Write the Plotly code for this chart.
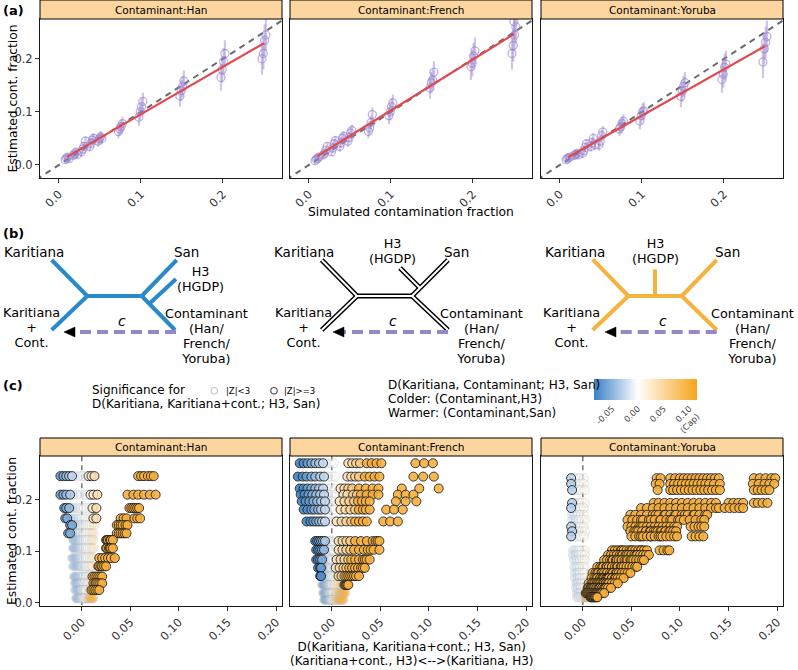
import numpy as np
import plotly.graph_objects as go

W, H = 798, 670
FONT = "DejaVu Sans, Verdana, sans-serif"

# ---------------- panel (a) data ----------------
SIM_FRACTION = [0.01, 0.02, 0.03, 0.04, 0.05, 0.075, 0.10, 0.15, 0.20, 0.25]
EST_HAN = [
    [0.010, 0.013, 0.015, 0.012],
    [0.018, 0.021, 0.024, 0.020],
    [0.025, 0.030, 0.035, 0.045],
    [0.035, 0.041, 0.047, 0.050],
    [0.045, 0.049, 0.053, 0.050],
    [0.063, 0.068, 0.072, 0.078],
    [0.090, 0.100, 0.110, 0.120],
    [0.130, 0.140, 0.148, 0.158],
    [0.165, 0.180, 0.195, 0.210],
    [0.200, 0.210, 0.235, 0.245],
]
EST_FRENCH = [
    [0.008, 0.011, 0.013, 0.015],
    [0.019, 0.022, 0.028, 0.035],
    [0.025, 0.032, 0.040, 0.046],
    [0.035, 0.042, 0.050, 0.054],
    [0.045, 0.052, 0.060, 0.065],
    [0.063, 0.070, 0.080, 0.095],
    [0.093, 0.100, 0.110, 0.117],
    [0.145, 0.155, 0.160, 0.175],
    [0.185, 0.192, 0.205, 0.215],
    [0.210, 0.225, 0.245, 0.260, 0.270],
]
EST_YORUBA = [
    [0.010, 0.012, 0.014, 0.015],
    [0.018, 0.020, 0.022, 0.019],
    [0.022, 0.027, 0.033, 0.040],
    [0.035, 0.042, 0.050, 0.038],
    [0.038, 0.045, 0.055, 0.062],
    [0.068, 0.072, 0.078, 0.082],
    [0.083, 0.093, 0.100, 0.102],
    [0.129, 0.139, 0.148, 0.155],
    [0.161, 0.171, 0.184, 0.190],
    [0.194, 0.219, 0.231, 0.242],
]
CI_HALF = [0.006, 0.007, 0.009, 0.010, 0.011, 0.013, 0.016, 0.020, 0.025, 0.030]
CONTAMINANTS = ["Han", "French", "Yoruba"]

# ---------------- panel (c) data ----------------
# colour value D(Karitiana, Contaminant; H3, San) of each H3 population (capped at 0.10)
HAN_D = [-0.065, -0.055, -0.045, -0.035, -0.025, -0.015, -0.008, -0.003, 0.003, 0.012, 0.025, 0.040,
         0.10, 0.10, 0.10, 0.10, 0.10, 0.10]
HAN_Y = [0.246, 0.210, 0.184, 0.164, 0.151, 0.135, 0.122, 0.106, 0.087, 0.071, 0.051, 0.038, 0.025, 0.009]
# D(Karitiana, Karitiana+cont.; H3, San), in units of 0.001, one row per replicate
HAN_X = [
    "-22 -19 -16 -13 -10 -6 -2 1 4 7 10 13 58 61 64 68 71 74",
    "-22 -19 -16 -12 -9 -5 -1 3 6 9 12 16 47 53 58 64 70 76",
    "-18 -16 -13 -10 -7 -4 -1 2 5 8 11 15 49 51 53 55 57 59",
    "-17 -15 -12 -9 -6 -3 0 3 6 9 12 15 40 43 46 54 57 60",
    "-12 -10 -8 -6 -4 -1 2 4 6 8 10 13 36 38 40 42 45 47",
    "-14 -12 -9 -6 -4 -1 2 4 6 8 10 12 36 38 40 42 44 46",
    "-9 -8 -6 -4 -2 0 2 4 6 8 10 12 25 26 27 29 30 32",
    "-9 -8 -6 -4 -2 0 2 4 6 8 10 12 25 26 28 29 30 32",
    "-10 -8 -6 -4 -2 0 2 4 6 8 10 12 18 21 24 27 30 34",
    "-9 -7 -5 -3 -1 1 3 5 7 8 10 11 17 18 20 21 23 25",
    "-8 -7 -5 -3 -1 1 2 4 5 7 8 10 11 13 15 17 19 21",
    "-7 -6 -4 -3 -1 0 2 3 5 6 7 9 12 14 15 17 19 21",
    "-7 -5 -4 -2 -1 0 2 3 4 5 7 8 9 10 12 14 16 18",
    "-6 -5 -4 -2 -1 0 1 2 3 4 5 6 7 8 9 10 11 12",
]
# |Z|>=3 flags for D(Karitiana, Karitiana+cont.; H3, San)
HAN_SIG = [
    "111110000111111111", "111100000111111111", "111000000011111111", "110000000011111111",
    "110000000000111111", "110000000000111111", "000000000000111111", "000000000000111111",
    "000000000000111111", "000000000000111111", "000000000000111111", "000000000000111111",
    "000000000000011111", "000000000000000000",
]

FR_D = [-0.085, -0.075, -0.065, -0.055, -0.045, -0.035, -0.025, -0.015, -0.004, 0.006,
        0.035, 0.045, 0.055, 0.065, 0.10, 0.10, 0.10, 0.10, 0.10, 0.10, 0.10]
FR_Y = [0.271, 0.245, 0.222, 0.210, 0.197, 0.181, 0.158, 0.120, 0.103, 0.084, 0.068, 0.052, 0.035, 0.019, 0.006]
FR_X = [
    "-33 -29 -25 -21 -17 -13 -9 -5 -1 2 17 21 25 29 36 41 46 51 86 95 104",
    "-35 -30 -26 -21 -17 -12 -8 -4 0 3 16 20 24 28 34 39 44 49 84 94 105",
    "-33 -29 -25 -21 -17 -13 -9 -5 -1 3 9 13 17 21 28 35 42 48 72 90 110",
    "-32 -28 -24 -20 -16 -12 -8 -4 -1 3 12 16 22 26 30 36 42 48 68 76 84",
    "-31 -27 -23 -19 -15 -11 -7 -4 -1 3 8 13 18 23 27 31 35 39 66 76 87",
    "-29 -25 -21 -18 -14 -11 -7 -4 -1 3 9 14 19 24 28 32 35 39 56 64 73",
    "-26 -22 -19 -16 -13 -10 -7 -4 -1 2 5 10 15 20 24 28 32 36 53 60 68",
    "-17 -15 -13 -11 -9 -7 -5 -3 -1 2 7 11 15 19 24 30 36 42 45 47 49",
    "-16 -14 -12 -10 -8 -6 -4 -2 0 2 7 11 15 19 23 28 33 37 40 43 49",
    "-16 -14 -12 -10 -8 -6 -4 -2 0 2 5 9 13 17 20 24 28 32 34 36 39",
    "-14 -12 -11 -9 -7 -5 -4 -2 0 2 4 8 12 15 18 21 24 27 30 32 34",
    "-12 -11 -9 -8 -6 -5 -3 -2 0 2 4 7 10 13 15 17 19 21 23 25 28",
    "-10 -9 -8 -6 -5 -4 -3 -2 0 2 3 5 7 9 11 12 13 14 15 16 17",
    "-9 -8 -7 -6 -5 -4 -3 -2 0 1 2 4 5 7 8 9 10 11 12 13 14",
    "-8 -7 -6 -5 -4 -3 -2 -1 0 1 2 3 4 5 6 7 8 9 10 11 12",
]
FR_SIG = [
    "111111100011111111111", "111111100011111111111", "111111100011111111111", "111111100011111111111",
    "111111100011111111111", "111111100011111111111", "111111100011111111111", "111111000011111111111",
    "111110000011111111111", "111100000011111111111", "111000000011111111111", "110000000001111111111",
    "000000000000000011111", "000000000000000000000", "000000000000000000000",
]

YO_D = [-0.030, -0.015, -0.005, 0.002, 0.010,
        0.10, 0.10, 0.10, 0.10, 0.10, 0.10, 0.10, 0.10, 0.10, 0.10,
        0.10, 0.10, 0.10, 0.10, 0.10, 0.10, 0.10, 0.10, 0.10, 0.10]
YO_Y = [0.242, 0.231, 0.219, 0.194, 0.184, 0.171, 0.161, 0.148, 0.139, 0.129,
        0.102, 0.093, 0.083, 0.070, 0.058, 0.048, 0.038, 0.029, 0.019, 0.011]
YO_X = [
    "-12 -9 -6 -3 1 76 80 90 95 100 104 108 112 116 120 124 128 132 136 140 176 182 188 194 198",
    "-12 -8 -5 -2 1 75 79 90 94 98 102 106 110 114 118 122 126 130 135 141 175 181 187 192 197",
    "-11 -8 -5 -2 2 77 90 93 97 101 105 109 113 117 121 125 129 133 137 141 176 180 184 188 192",
    "-11 -7 -4 -1 2 73 78 84 90 96 102 108 114 120 126 132 137 150 155 160 165 176 180 185 190",
    "-12 -8 -5 -2 1 60 66 72 78 84 90 96 102 108 114 120 126 132 137 140 146 151 156 161 165",
    "-11 -8 -5 -2 1 49 54 60 66 72 75 78 84 85 90 95 96 102 105 108 114 115 120 126 128",
    "-11 -7 -4 -1 2 46 51 56 60 62 68 70 74 80 80 86 90 92 98 100 104 110 116 122 125",
    "-12 -8 -5 -2 1 46 50 54 58 60 62 66 70 74 78 82 86 90 94 97 111 115 119 122 125",
    "-11 -7 -4 -1 2 49 53 55 57 61 65 65 69 70 73 75 77 80 81 85 85 89 90 93 96",
    "-12 -8 -5 -2 1 50 54 58 60 62 66 70 70 74 78 80 82 86 90 94 97 112 116 120 124",
    "-10 -7 -4 -1 2 30 33 36 39 40 42 45 48 50 51 54 57 60 60 63 66 79 83 87 89",
    "-10 -7 -4 -1 2 26 29 32 35 35 38 40 41 44 45 47 50 50 53 55 56 59 62 65 68",
    "-9 -6 -3 0 2 22 25 28 30 31 34 35 37 40 40 43 45 46 49 50 52 55 58 61 63",
    "-9 -6 -3 0 2 15 18 20 21 24 25 27 30 30 33 35 36 39 40 42 45 48 51 54 56",
    "-8 -5 -3 0 2 10 13 15 16 19 20 22 25 25 28 30 31 34 35 37 40 40 43 46 49",
    "-8 -5 -3 0 2 9 12 14 15 18 18 20 21 22 24 25 26 27 30 30 33 34 36 39 42",
    "-7 -5 -2 0 2 6 9 10 12 12 14 15 16 18 18 20 21 22 24 24 26 27 30 33 36",
    "-7 -5 -2 0 2 5 6 8 8 9 10 11 12 14 14 16 17 18 20 20 22 23 24 26 29",
    "-6 -4 -2 0 2 3 4 5 6 7 8 9 10 11 12 13 14 14 15 16 17 18 19 20 22",
    "-6 -4 -2 0 1 2 3 3 4 5 5 6 7 7 8 9 9 10 11 11 12 13 13 14 15",
]
YO_SIG = [
    "1000011111111111111111111", "1000011111111111111111111", "1000011111111111111111111",
    "1000011111111111111111111", "1000011111111111111111111", "0000011111111111111111111",
    "0000011111111111111111111", "1000011111111111111111111", "1000011111111111111111111",
    "1000011111111111111111111", "0000011111111111111111111", "0000011111111111111111111",
    "0000011111111111111111111", "0000011111111111111111111", "0000011111111111111111111",
    "0000011111111111111111111", "0000011111111111111111111", "0000011111111111111111111",
    "0000011111111111111111111", "0000000000000011111111111",
]
CB_TICKS = [-0.05, 0.0, 0.05, 0.10]
CB_TICKTEXT = ["-0.05", "0.00", "0.05", "0.10<br>(Cap)"]
CB_MIN, CB_MAX = -0.085, 0.115

# ---------------- helpers ----------------
fig = go.Figure()
shapes, ann = [], []


def P(x, y):
    return x / W, 1 - y / H


def seg(x0, y0, x1, y1, color, width, dash=None):
    a, b = P(x0, y0)
    c, d = P(x1, y1)
    ln = dict(color=color, width=width)
    if dash:
        ln["dash"] = dash
    shapes.append(dict(type="line", xref="paper", yref="paper", x0=a, y0=b, x1=c, y1=d, line=ln))


def txt(x, y, s, size=14, xanchor="center", yanchor="middle", angle=0, color="black"):
    a, b = P(x, y)
    ann.append(dict(xref="paper", yref="paper", x=a, y=b, text=s, showarrow=False,
                    font=dict(family=FONT, size=size, color=color), xanchor=xanchor,
                    yanchor=yanchor, textangle=angle, borderpad=0))


def mtxt(x, y_first, lines, size, spacing, xanchor="center", align="center"):
    """several lines in one text, with a line spacing tighter than Plotly's default"""
    base = spacing / 1.3
    body = "<br>".join(f'<span style="font-size:{size}px">{s}</span>' for s in lines)
    y_mid = y_first + spacing * (len(lines) - 1) / 2
    a, b = P(x, y_mid)
    ann.append(dict(xref="paper", yref="paper", x=a, y=b, text=body, showarrow=False,
                    font=dict(family=FONT, size=base, color="black"), xanchor=xanchor,
                    yanchor="middle", align=align, borderpad=0))


def rect(x0, y0, x1, y1, fill, line_color="black", lw=1):
    a, b = P(x0, y1)
    c, d = P(x1, y0)
    shapes.append(dict(type="rect", xref="paper", yref="paper", x0=a, y0=b, x1=c, y1=d,
                       fillcolor=fill, line=dict(color=line_color, width=lw)))


def circ(cx, cy, r, color, lw=1):
    a, b = P(cx - r, cy + r)
    c, d = P(cx + r, cy - r)
    shapes.append(dict(type="circle", xref="paper", yref="paper", x0=a, y0=b, x1=c, y1=d,
                       line=dict(color=color, width=lw)))


def tri(points, fill):
    path = "M " + " L ".join(f"{P(x, y)[0]:.5f},{P(x, y)[1]:.5f}" for x, y in points) + " Z"
    shapes.append(dict(type="path", xref="paper", yref="paper", path=path, fillcolor=fill,
                       line=dict(color=fill, width=0.5)))


def sfx(k):
    return "" if k == 1 else str(k)


XDOM = [(40, 282), (290, 532), (541, 783)]
A_Y = (19, 178)
C_Y = (456, 606)
STRIP_FILL = "#fdd59f"
AX = dict(showgrid=False, zeroline=False, showline=True, mirror=True, linecolor="#1a1a1a",
          linewidth=1, ticks="outside", ticklen=4, tickwidth=1, tickcolor="#333",
          tickfont=dict(family=FONT, size=11.5, color="#333"))
layout_axes = {}
TITLE = 12.3

# ---------------- panel (a) ----------------
JITTER = [-0.0024, -0.0008, 0.0008, 0.0024, 0.0]
for i, est in enumerate([EST_HAN, EST_FRENCH, EST_YORUBA]):
    k = i + 1
    xs, xraw, ys, es = [], [], [], []
    for f, reps, hw in zip(SIM_FRACTION, est, CI_HALF):
        for j, v in enumerate(reps):
            xs.append(f + JITTER[j])
            xraw.append(f)
            ys.append(v)
            es.append(hw)
    xa, ya = "x" + sfx(k), "y" + sfx(k)
    fig.add_trace(go.Scatter(x=[-0.05, 0.3], y=[-0.05, 0.3], mode="lines", xaxis=xa, yaxis=ya,
                             line=dict(color="#6b6b6b", width=2, dash="6px,5px"), hoverinfo="skip"))
    fig.add_trace(go.Scatter(x=xs, y=ys, mode="markers", xaxis=xa, yaxis=ya,
                             marker=dict(symbol="circle-open", size=8, color="rgba(150,128,205,0.6)",
                                         line=dict(width=1.3)),
                             error_y=dict(type="data", array=es, visible=True, thickness=2.2, width=0,
                                          color="rgba(150,128,205,0.45)")))
    slope, icpt = np.polyfit(xraw, ys, 1)
    xf = np.array([min(SIM_FRACTION), max(SIM_FRACTION)])
    fig.add_trace(go.Scatter(x=xf, y=slope * xf + icpt, mode="lines", xaxis=xa, yaxis=ya,
                             line=dict(color="#e04a4f", width=2.2)))
    layout_axes["xaxis" + sfx(k)] = dict(AX, domain=[XDOM[i][0] / W, XDOM[i][1] / W], anchor=ya,
                                         range=[-0.023, 0.272], tickvals=[0, 0.1, 0.2],
                                         ticktext=["0.0", "0.1", "0.2"], tickangle=-45)
    layout_axes["yaxis" + sfx(k)] = dict(AX, domain=[1 - A_Y[1] / H, 1 - A_Y[0] / H], anchor=xa,
                                         range=[-0.0245, 0.275], tickvals=[0, 0.1, 0.2],
                                         ticktext=["0.0", "0.1", "0.2"], showticklabels=(i == 0),
                                         ticks="outside" if i == 0 else "")
    rect(XDOM[i][0], 0, XDOM[i][1], A_Y[0], STRIP_FILL)
    txt((XDOM[i][0] + XDOM[i][1]) / 2, 9.5, "Contaminant:" + CONTAMINANTS[i], size=10.5)

txt(2, 10, "<b>(a)</b>", size=13, xanchor="left")
txt(12, (A_Y[0] + A_Y[1]) / 2, "Estimated cont. fraction", size=TITLE, angle=-90)
txt(411, 211.5, "Simulated contamination fraction", size=TITLE)

# ---------------- panel (b): trees ----------------
BLUE, ORANGE, PURPLE = "#2a8ac9", "#f6b23e", "#9787c8"
TREE1 = [((51.7, 260), (87.3, 296)), ((51.7, 330), (87.3, 296)), ((87.3, 296), (141.7, 296)),
         ((141.7, 296), (176.7, 260)), ((141.7, 296), (175, 330)), ((149, 304), (176, 279))]
for (a, b) in TREE1:
    seg(a[0], a[1], b[0], b[1], BLUE, 4)
TREE2 = [((321.7, 260), (357, 296)), ((321.7, 330), (357, 296)), ((357, 296), (412, 296)),
         ((412, 296), (448, 330)), ((412, 296), (420, 288)), ((420, 288), (448, 260)),
         ((420, 288), (400, 268))]
for (a, b) in TREE2:
    seg(a[0], a[1], b[0], b[1], "black", 5)
for (a, b) in TREE2:
    seg(a[0], a[1], b[0], b[1], "white", 2)
TREE3 = [((592.7, 259.3), (628.3, 296)), ((592.7, 330), (628.3, 296)), ((628.3, 296), (681.7, 296)),
         ((655, 296), (655, 269.3)), ((681.7, 296), (716.7, 260)), ((681.7, 296), (716.7, 330))]
for (a, b) in TREE3:
    seg(a[0], a[1], b[0], b[1], ORANGE, 4)

for (x_end, x_tip, cx) in [(176, 64, 121.7), (448, 333, 393), (716.7, 605, 663.3)]:
    seg(x_end, 332, x_tip + 10, 332, PURPLE, 4, dash="11px,6px")
    tri([(x_tip, 332), (x_tip + 11, 327), (x_tip + 11, 337)], "black")
    txt(cx, 321, "<i>c</i>", size=14)

TREE_FS = 13.5
STACK_FS = 12.8
for (xk, xs_) in [(34, 186), (304, 456), (575, 727)]:
    txt(xk, 252, "Karitiana", size=TREE_FS)
    txt(xs_, 252, "San", size=TREE_FS)
for (xkc, xcl) in [(31.7, 206), (303.5, 481), (571.7, 752)]:
    mtxt(xkc, 313, ["Karitiana", "+", "Cont."], STACK_FS, 15)
    mtxt(xcl, 313, ["Contaminant", "(Han/", "French/", "Yoruba)"], STACK_FS, 15)
for (xh, yh) in [(200, 272), (392, 244), (655, 243)]:
    mtxt(xh, yh, ["H3", "(HGDP)"], STACK_FS, 15)
txt(2, 233, "<b>(b)</b>", size=13, xanchor="left")

# ---------------- panel (c) ----------------
white_pos = (0 - CB_MIN) / (CB_MAX - CB_MIN)
CSCALE = [[0, "#3a7fc6"], [white_pos, "#ffffff"], [1, "#f7a31c"]]
c_sets = [(HAN_D, HAN_Y, HAN_X, HAN_SIG), (FR_D, FR_Y, FR_X, FR_SIG), (YO_D, YO_Y, YO_X, YO_SIG)]
for i, (dv, yr, xr, sr) in enumerate(c_sets):
    k = i + 4
    xa, ya = "x" + sfx(k), "y" + sfx(k)
    pts = []
    for y, row, srow in zip(yr, xr, sr):
        vals = [float(t) / 1000 for t in row.split()]
        for j, x in enumerate(vals):
            pts.append((srow[j] == "1", x, y, dv[j]))
    pts.sort(key=lambda p: p[0])
    fig.add_trace(go.Scatter(x=[0, 0], y=[-1, 1], mode="lines", xaxis=xa, yaxis=ya,
                             line=dict(color="#777", width=1.5, dash="5px,4px"), hoverinfo="skip"))
    marker = dict(size=9, color=[p[3] for p in pts], colorscale=CSCALE, cmin=CB_MIN, cmax=CB_MAX,
                  opacity=[0.88 if p[0] else 0.4 for p in pts],
                  line=dict(width=1, color=["#1c1c1c" if p[0] else "#bdbdbd" for p in pts]),
                  showscale=(i == 0))
    if i == 0:
        marker["colorbar"] = dict(orientation="h", x=594 / W, xanchor="left", y=1 - 379 / H,
                                  yanchor="top", len=103 / W, lenmode="fraction", thickness=21,
                                  thicknessmode="pixels", tickvals=CB_TICKS, ticktext=CB_TICKTEXT,
                                  tickangle=-45, tickfont=dict(family=FONT, size=8.5, color="#444"),
                                  outlinewidth=0, ticks="", xpad=0, ypad=0)
    fig.add_trace(go.Scatter(x=[p[1] for p in pts], y=[p[2] for p in pts], mode="markers",
                             xaxis=xa, yaxis=ya, marker=marker))
    layout_axes["xaxis" + sfx(k)] = dict(AX, domain=[XDOM[i][0] / W, XDOM[i][1] / W], anchor=ya,
                                         range=[-0.043, 0.206], tickvals=[0, 0.05, 0.10, 0.15, 0.20],
                                         ticktext=["0.00", "0.05", "0.10", "0.15", "0.20"], tickangle=-45)
    layout_axes["yaxis" + sfx(k)] = dict(AX, domain=[1 - C_Y[1] / H, 1 - C_Y[0] / H], anchor=xa,
                                         range=[-0.006, 0.285], tickvals=[0, 0.1, 0.2],
                                         ticktext=["0.0", "0.1", "0.2"], showticklabels=(i == 0),
                                         ticks="outside" if i == 0 else "")
    rect(XDOM[i][0], 438, XDOM[i][1], C_Y[0], STRIP_FILL)
    txt((XDOM[i][0] + XDOM[i][1]) / 2, 447, "Contaminant:" + CONTAMINANTS[i], size=10.5)

txt(2, 386, "<b>(c)</b>", size=13, xanchor="left")
mtxt(91, 390, ["Significance for", "D(Karitiana, Karitiana+cont.; H3, San)"], 12, 14.2,
     xanchor="left", align="left")
circ(214.3, 390.7, 3.2, "#c8c8c8", 1.2)
txt(225, 390.7, "|Z|<3", size=8.5, xanchor="left")
circ(274, 390.7, 3.2, "#555555", 1.2)
txt(283, 390.7, "|Z|>=3", size=8.5, xanchor="left")
mtxt(387, 384.8, ["D(Karitiana, Contaminant; H3, San)", "Colder: (Contaminant,H3)",
                  "Warmer: (Contaminant,San)"], 12, 14.2, xanchor="left", align="left")
txt(12, (C_Y[0] + C_Y[1]) / 2, "Estimated cont. fraction", size=TITLE, angle=-90)
mtxt(411, 646.3, ["D(Karitiana, Karitiana+cont.; H3, San)", "(Karitiana+cont., H3)<-->(Karitiana, H3)"],
     12, 14.4)

fig.update_layout(width=W, height=H, margin=dict(l=0, r=0, t=0, b=0, autoexpand=False),
                  plot_bgcolor="white", paper_bgcolor="white", showlegend=False,
                  font=dict(family=FONT, color="black"), shapes=shapes, annotations=ann,
                  hovermode=False, **layout_axes)
fig.write_html("out.html", config={"displayModeBar": False},
               post_script="document.body.style.margin='0px';")
